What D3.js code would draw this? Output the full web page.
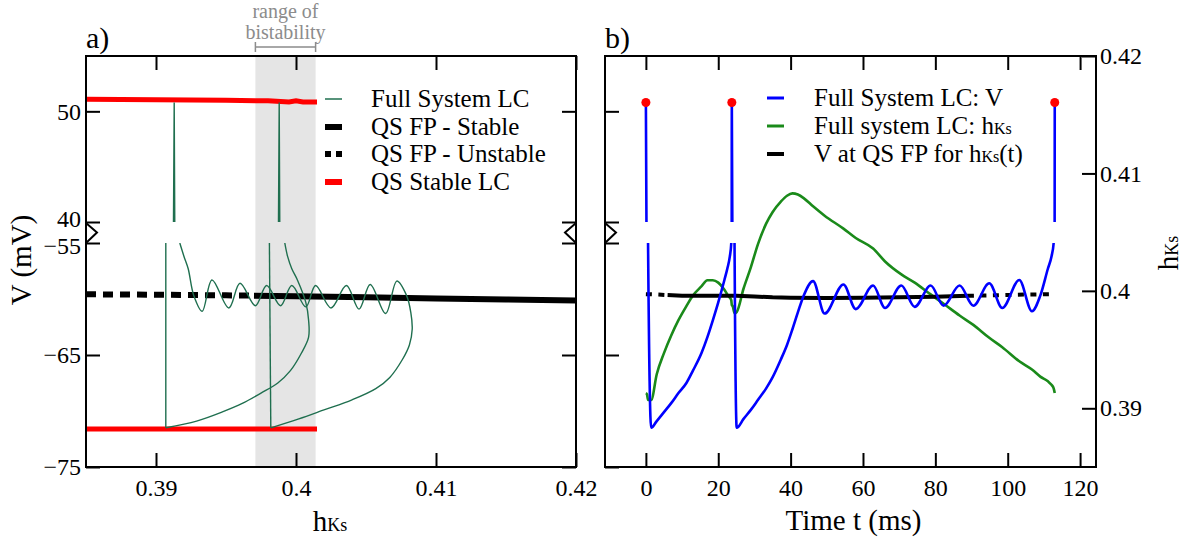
<!DOCTYPE html>
<html><head><meta charset="utf-8">
<script src="https://cdn.jsdelivr.net/npm/d3@7"></script>
<style>
html,body{margin:0;padding:0;background:#fff;}
svg{display:block;}
</style></head>
<body>
<svg id="chart" width="1190" height="539"></svg>
<script>
// ---------------- data ----------------
const hksDomain = [0.385, 0.42];
const timeDomain = [-11.3, 124.4];
const vUpperDomain = [40, 55];
const vLowerDomain = [-75, -55];

const hksTicks = [0.39, 0.40, 0.41, 0.42];
const hksTickLabels = ["0.39", "0.4", "0.41", "0.42"];
const timeTicks = [0, 20, 40, 60, 80, 100, 120];
const vTicksUpper = [40, 50];
const vTicksLower = [-75, -65, -55];

const bistabilityRange = [0.3971, 0.4014];

// full-system limit cycle, read at the same instants for V and hKs
const trajTime = [0, 0.3, 0.6, 1.46, 3, 5, 7, 9, 11.2, 13, 15.4, 17, 18.5, 20, 21.7, 22.5, 23.2, 23.6,
  23.75, 24.0, 24.5, 25.1, 27, 29, 31, 33.2, 35, 37.3, 39, 40.5, 42, 43.6, 46.2, 49.4, 54.6, 58.0,
  62.8, 66.1, 70.6, 74.3, 78.7, 82.3, 86.7, 90.5, 94.9, 98.5, 103.2, 106.7, 109, 111.1, 112.1, 112.7, 113];
const trajV = [50.8, 30, -55.0, -71.5, -70.9, -70.1, -69.3, -68.4, -67.5, -66.4, -64.8, -63.4, -61.9, -60.3, -58.3, -57.3, -56.2, -55.0,
  50.8, 30, -55.0, -71.5, -70.7, -69.9, -69.0, -68.0, -67.0, -65.4, -64.1, -62.7, -61.2, -59.7, -58.4, -61.3, -58.7, -60.9,
  -58.8, -60.8, -58.8, -60.7, -58.8, -60.6, -58.8, -60.6, -58.6, -60.8, -58.3, -61.1, -59.7, -57.3, -56.2, -55.0, 50.8];
const trajHks = [0.3913, 0.3912, 0.3907, 0.3907, 0.3929, 0.3947, 0.3962, 0.3975, 0.3987, 0.3996, 0.4004, 0.4009, 0.4009, 0.4007, 0.4001, 0.3997, 0.3994, 0.3992,
  0.3988, 0.3987, 0.3981, 0.3982, 0.4002, 0.4020, 0.4040, 0.4057, 0.4067, 0.4076, 0.4081, 0.4083, 0.4082, 0.4079, 0.4072, 0.4064, 0.4053, 0.4045,
  0.4036, 0.4025, 0.4014, 0.4007, 0.3997, 0.3989, 0.3979, 0.3971, 0.3960, 0.3952, 0.3940, 0.3933, 0.3927, 0.3923, 0.3920, 0.3917, 0.3913];

// quasi-static fixed point vs hKs (panel a)
const fpHks = [0.385, 0.390, 0.395, 0.397, 0.400, 0.405, 0.410, 0.415, 0.420];
const fpV = [-59.58, -59.62, -59.67, -59.70, -59.75, -59.85, -59.95, -60.05, -60.13];
const fpStable = [0, 0, 0, 1, 1, 1, 1, 1, 1];

// V at QS FP along hKs(t) (panel b)
const qsTime = [0, 3, 6, 10, 15, 20, 25, 30, 35, 40, 50, 60, 70, 80, 89, 95, 100, 105, 113];
const qsV = [-59.57, -59.60, -59.65, -59.70, -59.72, -59.72, -59.72, -59.78, -59.85, -59.88, -59.90, -59.88, -59.84, -59.80, -59.72, -59.68, -59.64, -59.60, -59.57];
const qsStable = [0, 0, 1, 1, 1, 1, 1, 1, 1, 1, 1, 1, 1, 1, 1, 0, 0, 0, 0];

// quasi-static stable limit cycle extremes (panel a)
const lcHks = [0.385, 0.390, 0.395, 0.398, 0.3995, 0.4000, 0.4005, 0.4015];
const lcVmax = [51.10, 51.05, 51.00, 50.95, 50.85, 50.95, 50.85, 50.85];
const lcVmin = [-71.6, -71.6, -71.6, -71.6, -71.6, -71.6, -71.6, -71.6];

const legendA = ["Full System LC", "QS FP - Stable", "QS FP - Unstable", "QS Stable LC"];

// ---------------- drawing ----------------
const FONT = "'Liberation Serif','Times New Roman',serif";
const svg = d3.select("#chart");
const yTop = 56, yBot = 467;
const pa = {l: 86, r: 576}, pb = {l: 605, r: 1096};

const xA = d3.scaleLinear().domain(hksDomain).range([pa.l, pa.r]);
const xB = d3.scaleLinear().domain(timeDomain).range([pb.l, pb.r]);
const yUp = d3.scaleLinear().domain(vUpperDomain).range([222, yTop]);
const yLo = d3.scaleLinear().domain(vLowerDomain).range([yBot, 243]);
const yH = d3.scaleLinear().domain(hksDomain).range([yBot, yTop]);

const defs = svg.append("defs");
function clip(id, x, y, w, h) {
  defs.append("clipPath").attr("id", id).append("rect")
    .attr("x", x).attr("y", y).attr("width", w).attr("height", h);
}
clip("aUp", pa.l, yTop, pa.r - pa.l, yUp(40) - yTop);
clip("aLo", pa.l, yLo(-55), pa.r - pa.l, yBot - yLo(-55));
clip("bUp", pb.l, yTop, pb.r - pb.l, yUp(40) - yTop);
clip("bLo", pb.l, yLo(-55), pb.r - pb.l, yBot - yLo(-55));
clip("bAll", pb.l, yTop, pb.r - pb.l, yBot - yTop);

const traj = trajTime.map((t, i) => ({t, v: trajV[i], h: trajHks[i]}));

function runs(points, flags) {
  const out = [];
  for (let i = 0; i < points.length - 1; i++) {
    const st = flags[i] && flags[i + 1] ? 1 : 0;
    const last = out[out.length - 1];
    if (last && last.stable === st) last.pts.push(points[i + 1]);
    else out.push({stable: st, pts: [points[i], points[i + 1]]});
  }
  return out;
}

// ======== panel a ========
const gA = svg.append("g");
gA.append("rect")
  .attr("x", xA(bistabilityRange[0])).attr("y", yTop)
  .attr("width", xA(bistabilityRange[1]) - xA(bistabilityRange[0]))
  .attr("height", yBot - yTop).attr("fill", "#e5e5e5");

const lc = lcHks.map((h, i) => ({h, vmax: lcVmax[i], vmin: lcVmin[i]}));
gA.append("path").datum(lc).attr("clip-path", "url(#aUp)")
  .attr("d", d3.line().x(d => xA(d.h)).y(d => yUp(d.vmax)))
  .attr("fill", "none").attr("stroke", "#ff0000").attr("stroke-width", 5);
gA.append("path").datum(lc).attr("clip-path", "url(#aLo)")
  .attr("d", d3.line().x(d => xA(d.h)).y(d => yLo(d.vmin)))
  .attr("fill", "none").attr("stroke", "#ff0000").attr("stroke-width", 5);

const fp = fpHks.map((h, i) => ({h, v: fpV[i]}));
runs(fp, fpStable).forEach(r => {
  gA.append("path").datum(r.pts).attr("clip-path", "url(#aLo)")
    .attr("d", d3.line().x(d => xA(d.h)).y(d => yLo(d.v)))
    .attr("fill", "none").attr("stroke", "#000").attr("stroke-width", 6)
    .attr("stroke-dasharray", r.stable ? null : "10,7");
});

const greenA = "#1f6f4f";
// spikes (upper band): straight segments
gA.append("path").datum(traj).attr("clip-path", "url(#aUp)")
  .attr("d", d3.line().x(d => xA(d.h)).y(d => yUp(d.v)))
  .attr("fill", "none").attr("stroke", greenA).attr("stroke-width", 1.4);
// lower band: fast jumps straight, slow phases smoothed
{
  const fastLine = d3.line().x(d => xA(d.h)).y(d => yLo(d.v));
  const slowLine = d3.line().curve(d3.curveCatmullRom.alpha(0.5)).x(d => xA(d.h)).y(d => yLo(d.v));
  const pieces = []; let cur = [];
  for (let i = 0; i < traj.length - 1; i++) {
    const a = traj[i], b = traj[i + 1];
    if (a.v > -55 || b.v > -55) { if (cur.length > 1) pieces.push({fast: 0, pts: cur}); cur = []; continue; }
    if (Math.abs(b.v - a.v) > 8) {
      if (cur.length > 1) pieces.push({fast: 0, pts: cur});
      pieces.push({fast: 1, pts: [a, b]}); cur = [];
      continue;
    }
    if (!cur.length) cur.push(a);
    cur.push(b);
  }
  if (cur.length > 1) pieces.push({fast: 0, pts: cur});
  pieces.forEach(p => {
    gA.append("path").datum(p.pts).attr("clip-path", "url(#aLo)")
      .attr("d", (p.fast ? fastLine : slowLine))
      .attr("fill", "none").attr("stroke", greenA).attr("stroke-width", 1.4);
  });
}

// ======== panel b ========
const gB = svg.append("g");
const greenB = "#1a8a1a";
gB.append("path").datum(traj).attr("clip-path", "url(#bAll)")
  .attr("d", d3.line().curve(d3.curveMonotoneX).x(d => xB(d.t)).y(d => yH(d.h)))
  .attr("fill", "none").attr("stroke", greenB).attr("stroke-width", 2.6);

const qs = qsTime.map((t, i) => ({t, v: qsV[i]}));
runs(qs, qsStable).forEach(r => {
  gB.append("path").datum(r.pts).attr("clip-path", "url(#bLo)")
    .attr("d", d3.line().x(d => xB(d.t)).y(d => yLo(d.v)))
    .attr("fill", "none").attr("stroke", "#000").attr("stroke-width", 4)
    .attr("stroke-dasharray", r.stable ? null : "6,6.5");
});

gB.append("path").datum(traj).attr("clip-path", "url(#bUp)")
  .attr("d", d3.line().curve(d3.curveMonotoneX).x(d => xB(d.t)).y(d => yUp(d.v)))
  .attr("fill", "none").attr("stroke", "#0000ff").attr("stroke-width", 2.6);
gB.append("path").datum(traj).attr("clip-path", "url(#bLo)")
  .attr("d", d3.line().curve(d3.curveMonotoneX).x(d => xB(d.t)).y(d => yLo(d.v)))
  .attr("fill", "none").attr("stroke", "#0000ff").attr("stroke-width", 2.6);

gB.selectAll("circle.peak").data(traj.filter(d => d.v > 45)).join("circle")
  .attr("class", "peak").attr("cx", d => xB(d.t)).attr("cy", d => yUp(d.v))
  .attr("r", 4.5).attr("fill", "#ff0000");

// ======== axes & frames ========
function styleAxis(g) {
  g.attr("font-family", FONT).attr("font-size", 24);
  g.select(".domain").remove();
  g.selectAll(".tick line").attr("stroke", "#000").attr("stroke-width", 2);
  g.selectAll(".tick text").attr("fill", "#000");
}
const TK = -14;
svg.append("g").attr("transform", `translate(0,${yBot})`)
  .call(d3.axisBottom(xA).tickValues(hksTicks).tickFormat((d, i) => hksTickLabels[i]).tickSize(TK).tickPadding(12)).call(styleAxis);
svg.append("g").attr("transform", `translate(0,${yTop})`)
  .call(d3.axisTop(xA).tickValues(hksTicks).tickFormat("").tickSize(TK)).call(styleAxis);
[[yUp, vTicksUpper], [yLo, vTicksLower]].forEach(([s, tv]) => {
  svg.append("g").attr("transform", `translate(${pa.l},0)`)
    .call(d3.axisLeft(s).tickValues(tv).tickFormat(d3.format("d")).tickSize(TK).tickPadding(5)).call(styleAxis)
    .selectAll(".tick text").attr("dy", d => d === 40 ? "0.2em" : (d === -55 ? "0.45em" : "0.32em"));
  svg.append("g").attr("transform", `translate(${pa.r},0)`)
    .call(d3.axisRight(s).tickValues(tv).tickFormat("").tickSize(TK)).call(styleAxis);
  svg.append("g").attr("transform", `translate(${pb.l},0)`)
    .call(d3.axisLeft(s).tickValues(tv).tickFormat("").tickSize(TK)).call(styleAxis);
});
svg.append("g").attr("transform", `translate(0,${yBot})`)
  .call(d3.axisBottom(xB).tickValues(timeTicks).tickSize(TK).tickPadding(12)).call(styleAxis);
svg.append("g").attr("transform", `translate(0,${yTop})`)
  .call(d3.axisTop(xB).tickValues(timeTicks).tickFormat("").tickSize(TK)).call(styleAxis);
svg.append("g").attr("transform", `translate(${pb.r},0)`)
  .call(d3.axisRight(yH).tickValues(hksTicks).tickFormat((d, i) => hksTickLabels[i]).tickSize(TK).tickPadding(4)).call(styleAxis);

[pa, pb].forEach(p => {
  svg.append("rect").attr("x", p.l).attr("y", yTop).attr("width", p.r - p.l).attr("height", yBot - yTop)
    .attr("fill", "none").attr("stroke", "#000").attr("stroke-width", 2);
});
const yb1 = yUp(40), yb2 = yLo(-55), ybm = (yb1 + yb2) / 2;
function brk(x, dir) {
  svg.append("path").attr("d", `M${x},${yb1 + 1}L${x + dir * 11},${ybm}L${x},${yb2}`)
    .attr("fill", "none").attr("stroke", "#000").attr("stroke-width", 2);
}
brk(pa.l, 1); brk(pa.r, -1); brk(pb.l, 1);

// ======== text ========
function txt(x, y, s, fs, opts) {
  const t = svg.append("text").attr("x", x).attr("y", y).attr("font-family", FONT)
    .attr("font-size", fs).attr("fill", (opts && opts.fill) || "#000").text(s);
  if (opts && opts.anchor) t.attr("text-anchor", opts.anchor);
  return t;
}
txt(pa.l, 48, "a)", 30);
txt(pb.l, 48, "b)", 30);

const bx1 = xA(bistabilityRange[0]), bx2 = xA(bistabilityRange[1]), bmx = (bx1 + bx2) / 2;
txt(bmx, 18, "range of", 20, {anchor: "middle", fill: "#8c8c8c"});
txt(bmx, 39, "bistability", 20, {anchor: "middle", fill: "#8c8c8c"});
svg.append("path").attr("d", `M${bx1},42V52M${bx1},47H${bx2}M${bx2},42V52`)
  .attr("fill", "none").attr("stroke", "#8c8c8c").attr("stroke-width", 1.5);

svg.append("text").attr("transform", "translate(31,260) rotate(-90)").attr("text-anchor", "middle")
  .attr("font-family", FONT).attr("font-size", 29).text("V (mV)");
{
  const t = txt((pa.l + pa.r) / 2 - 1, 531, "h", 29, {anchor: "middle"});
  t.append("tspan").attr("font-size", 18).text("Ks");
}
txt((pb.l + pb.r) / 2 + 3, 530, "Time t (ms)", 29, {anchor: "middle"});
{
  const t = svg.append("text").attr("transform", "translate(1178,253) rotate(-90)").attr("text-anchor", "middle")
    .attr("font-family", FONT).attr("font-size", 29).text("h");
  t.append("tspan").attr("font-size", 18).text("Ks");
}

const legAY = [107, 135, 162, 190];
const lgx1 = 325, lgx2 = 342, lgtx = 371;
const legAStyles = [
  {c: greenA, w: 1.5, d: null}, {c: "#000", w: 6, d: null}, {c: "#000", w: 6, d: "6,5"}, {c: "#ff0000", w: 6, d: null}
];
legendA.forEach((s, i) => {
  const y = legAY[i] - 8;
  svg.append("line").attr("x1", lgx1).attr("x2", lgx2).attr("y1", y).attr("y2", y)
    .attr("stroke", legAStyles[i].c).attr("stroke-width", legAStyles[i].w).attr("stroke-dasharray", legAStyles[i].d);
  txt(lgtx, legAY[i], s, 25);
});

const legBY = [106, 134, 162];
const lbx1 = 767, lbx2 = 784, lbtx = 814;
[["#0000ff", 3], [greenB, 3], ["#000", 4]].forEach((st, i) => {
  const y = legBY[i] - 8;
  svg.append("line").attr("x1", lbx1).attr("x2", lbx2).attr("y1", y).attr("y2", y)
    .attr("stroke", st[0]).attr("stroke-width", st[1]);
});
txt(lbtx, legBY[0], "Full System LC: V", 25);
{
  const t = txt(lbtx, legBY[1], "Full system LC: h", 25);
  t.append("tspan").attr("font-size", 16).text("Ks");
}
{
  const t = txt(lbtx, legBY[2], "V at QS FP for h", 25);
  t.append("tspan").attr("font-size", 16).text("Ks");
  t.append("tspan").text("(t)");
}
</script>
</body></html>
